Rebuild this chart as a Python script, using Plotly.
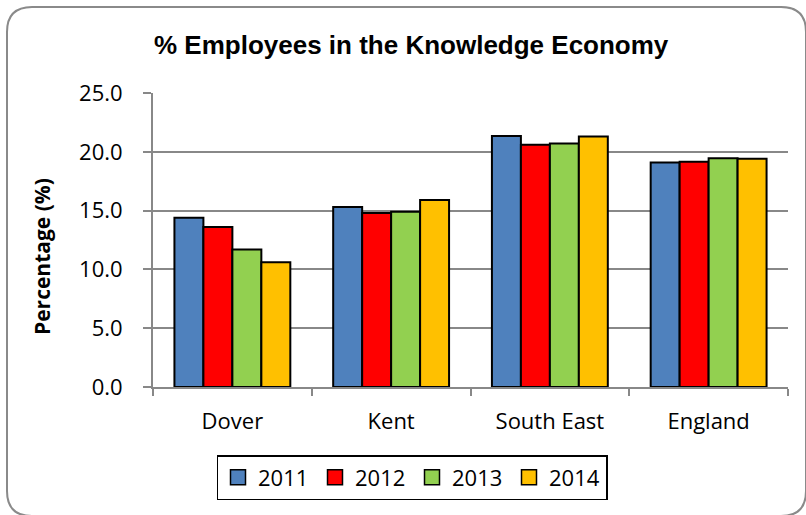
import plotly.graph_objects as go

categories = ["Dover", "Kent", "South East", "England"]
years = ["2011", "2012", "2013", "2014"]
values_2011 = [14.4, 15.3, 21.35, 19.1]
values_2012 = [13.6, 14.8, 20.6, 19.15]
values_2013 = [11.7, 14.9, 20.7, 19.45]
values_2014 = [10.6, 15.9, 21.3, 19.4]
series = [values_2011, values_2012, values_2013, values_2014]
colors = ["#4F81BD", "#FF0000", "#92D050", "#FFC000"]
y_ticks = [0, 5, 10, 15, 20, 25]

W, H = 806, 515
L, R, T, B = 153, 788, 93, 387  # plot area in px


def px_x(px):
    return (px - L) / (R - L)


def px_y(py):
    return (B - py) / (B - T)


fig = go.Figure()
for yr, vals, col in zip(years, series, colors):
    fig.add_trace(go.Bar(
        x=categories, y=vals, name=yr, legendgroup=yr, showlegend=False,
        marker=dict(color=col, line=dict(color="black", width=2)),
    ))
# legend entries with larger square keys (like the Excel legend)
for yr, col in zip(years, colors):
    fig.add_trace(go.Scatter(
        x=[None], y=[None], name=yr, legendgroup=yr, mode="markers",
        marker=dict(symbol="square", size=15, color=col,
                    line=dict(color="black", width=1.5)),
        showlegend=True, hoverinfo="skip",
    ))

grid_col = "#888888"
fig.update_layout(
    width=W, height=H,
    margin=dict(l=L, r=W - R, t=T, b=H - B),
    paper_bgcolor="white", plot_bgcolor="white",
    barmode="group", bargap=0.27, bargroupgap=0,
    font=dict(family="Open Sans", size=22, color="black"),
    showlegend=True,
    legend=dict(
        orientation="h", x=px_x(412), xanchor="center",
        y=px_y(455), yanchor="top",
        bordercolor="black", borderwidth=1.5,
        font=dict(family="Open Sans", size=22, color="black"),
        entrywidth=52, itemwidth=30, itemsizing="trace",
        traceorder="normal",
    ),
    xaxis=dict(
        showline=True, linecolor=grid_col, linewidth=2,
        ticks="outside", tickson="boundaries", ticklen=7,
        tickcolor=grid_col, tickwidth=2,
        ticklabelstandoff=14,
        showgrid=False,
    ),
    yaxis=dict(
        range=[0, 25], tickvals=y_ticks, tickformat=".1f",
        showline=True, linecolor=grid_col, linewidth=2,
        ticks="outside", ticklen=8, tickcolor=grid_col, tickwidth=2,
        ticklabelstandoff=16,
        showgrid=True, gridcolor=grid_col, gridwidth=2,
        zeroline=False,
    ),
)

# Title
fig.add_annotation(
    text="<b>% Employees in the Knowledge Economy</b>",
    xref="paper", yref="paper", x=px_x(411), y=px_y(45),
    xanchor="center", yanchor="middle", showarrow=False,
    font=dict(family="Liberation Sans", size=26, color="black"),
)
# Y-axis title
fig.add_annotation(
    text="<b>Percentage (%)</b>",
    xref="paper", yref="paper", x=px_x(42), y=px_y(256),
    xanchor="center", yanchor="middle", showarrow=False, textangle=-90,
    font=dict(family="Open Sans", size=21, color="black"),
)

# Rounded outer border
x0, x1, y0, y1, r = 7, 806, 7, 516, 25
path = (
    f"M {px_x(x0 + r)},{px_y(y0)} L {px_x(x1 - r)},{px_y(y0)} "
    f"Q {px_x(x1)},{px_y(y0)} {px_x(x1)},{px_y(y0 + r)} "
    f"L {px_x(x1)},{px_y(y1 - r)} "
    f"Q {px_x(x1)},{px_y(y1)} {px_x(x1 - r)},{px_y(y1)} "
    f"L {px_x(x0 + r)},{px_y(y1)} "
    f"Q {px_x(x0)},{px_y(y1)} {px_x(x0)},{px_y(y1 - r)} "
    f"L {px_x(x0)},{px_y(y0 + r)} "
    f"Q {px_x(x0)},{px_y(y0)} {px_x(x0 + r)},{px_y(y0)} Z"
)
fig.add_shape(type="path", path=path, xref="paper", yref="paper",
              line=dict(color="#8a8a8a", width=2), layer="below")

fig.write_html(
    "out.html",
    config={"displayModeBar": False},
    post_script="document.body.style.margin='0';document.body.style.overflow='hidden';",
)
